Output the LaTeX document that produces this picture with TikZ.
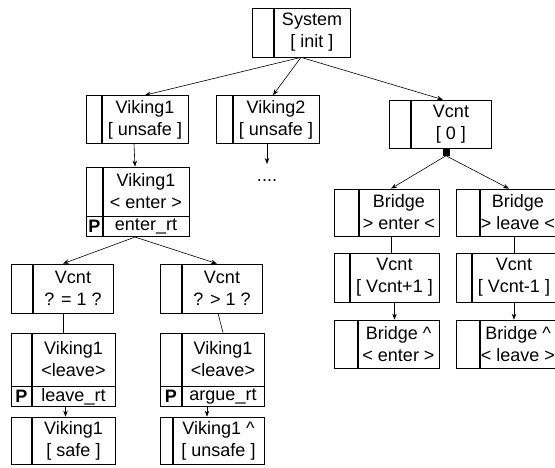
\documentclass[tikz,border=0pt]{standalone}
\usepackage{fontspec}
\setmainfont{Liberation Sans}
\usetikzlibrary{positioning,arrows.meta}

\tikzset{
  box/.style={draw, line width=0.7pt, inner sep=0pt, align=center, font=\fontsize{18}{22}\selectfont},
  col/.style={draw, line width=0.7pt, inner sep=0pt, font=\fontsize{18}{22}\selectfont\bfseries},
  arr/.style={line width=0.6pt, -{Stealth[length=6pt,width=4.5pt]}},
  link/.style={line width=0.6pt},
  sq/.style={fill, minimum size=7pt, inner sep=0pt}
}

\begin{document}
\begin{tikzpicture}[x=1pt,y=-1pt]
\useasboundingbox (0,0) rectangle (555,467);
\clip (0,0) rectangle (555,467);

\node[box, minimum width=76pt, minimum height=49pt] (sys) at (312,32.5) {System\\{[} init ]};
\node[col, minimum width=21pt, minimum height=49pt, left=0pt of sys] (sysl) {};

\node[box, minimum width=86pt, minimum height=48pt] (v1) at (145,119.5) {Viking1\\{[} unsafe ]};
\node[col, minimum width=15pt, minimum height=48pt, left=0pt of v1] (v1l) {};
\node[box, minimum width=86pt, minimum height=48pt] (v2) at (276,119.5) {Viking2\\{[} unsafe ]};
\node[col, minimum width=16pt, minimum height=48pt, left=0pt of v2] (v2l) {};
\node[box, minimum width=80pt, minimum height=48pt] (vc0) at (451,124) {Vcnt\\{[} 0 ]};
\node[col, minimum width=21pt, minimum height=48pt, left=0pt of vc0] (vc0l) {};
\node[sq, anchor=north] (vc0sq) at ([xshift=-5pt]vc0.south) {};

\node[box, minimum width=86pt, minimum height=49pt] (v1e) at (146,191.5) {Viking1\\< enter >};
\node[col, minimum width=16pt, minimum height=49pt, left=0pt of v1e] (v1el) {};
\node[box, minimum width=86pt, minimum height=20pt, below=0pt of v1e] (v1ep) {enter\_rt};
\node[col, minimum width=16pt, minimum height=20pt, left=0pt of v1ep] (v1epl) {P};
\node[font=\fontsize{18}{22}\selectfont, anchor=base, inner sep=0pt] (v2more) at (267,181) {....};

\node[box, minimum width=80pt, minimum height=49pt] (c1) at (73,288.5) {Vcnt\\? = 1 ?};
\node[col, minimum width=21pt, minimum height=49pt, left=0pt of c1] (c1l) {};
\node[box, minimum width=80pt, minimum height=49pt] (c2) at (222,288.5) {Vcnt\\? > 1 ?};
\node[col, minimum width=21pt, minimum height=49pt, left=0pt of c2] (c2l) {};

\node[box, minimum width=83pt, minimum height=53pt] (l1) at (73.5,359.5) {Viking1\\<leave>};
\node[col, minimum width=20pt, minimum height=53pt, left=0pt of l1] (l1l) {};
\node[box, minimum width=83pt, minimum height=20pt, below=0pt of l1] (l1p) {leave\_rt};
\node[col, minimum width=20pt, minimum height=20pt, left=0pt of l1p] (l1pl) {P};
\node[box, minimum width=82pt, minimum height=53pt] (l2) at (223,359.5) {Viking1\\<leave>};
\node[col, minimum width=21pt, minimum height=53pt, left=0pt of l2] (l2l) {};
\node[box, minimum width=82pt, minimum height=20pt, below=0pt of l2] (l2p) {argue\_rt};
\node[col, minimum width=21pt, minimum height=20pt, left=0pt of l2p] (l2pl) {P};

\node[box, minimum width=83pt, minimum height=47pt] (s1) at (73.5,440.5) {Viking1\\{[} safe ]};
\node[col, minimum width=20pt, minimum height=47pt, left=0pt of s1] (s1l) {};
\node[box, minimum width=91pt, minimum height=47pt] (s2) at (218.5,440.5) {Viking1 \textasciicircum\\{[} unsafe ]};
\node[col, minimum width=12pt, minimum height=47pt, left=0pt of s2] (s2l) {};

\node[box, minimum width=80pt, minimum height=47pt] (be) at (399,212.5) {Bridge\\> enter <};
\node[col, minimum width=24pt, minimum height=47pt, left=0pt of be] (bel) {};
\node[box, minimum width=76pt, minimum height=47pt] (bl) at (518,212.5) {Bridge\\> leave <};
\node[col, minimum width=23pt, minimum height=47pt, left=0pt of bl] (bll) {};
\node[box, minimum width=89pt, minimum height=49pt] (vp) at (394.5,277.5) {Vcnt\\{[} Vcnt+1 ]};
\node[col, minimum width=15pt, minimum height=49pt, left=0pt of vp] (vpl) {};
\node[box, minimum width=84pt, minimum height=49pt] (vm) at (514,277.5) {Vcnt\\{[} Vcnt-1 ]};
\node[col, minimum width=15pt, minimum height=49pt, left=0pt of vm] (vml) {};
\node[box, minimum width=81pt, minimum height=48pt] (bre) at (398.5,344) {Bridge \textasciicircum\\< enter >};
\node[col, minimum width=23pt, minimum height=48pt, left=0pt of bre] (brel) {};
\node[box, minimum width=76pt, minimum height=48pt] (brl) at (518,344) {Bridge \textasciicircum\\< leave >};
\node[col, minimum width=23pt, minimum height=48pt, left=0pt of brl] (brll) {};

\coordinate (sysout) at ([xshift=-11pt]sys.south);
\draw[arr] (sysout) -- (v1.north);
\draw[arr] (sysout) -- ([xshift=-3pt]v2.north);
\draw[arr] (sysout) -- ([xshift=-8pt]vc0.north);
\draw[arr] ([xshift=-11pt]v1.south) -- ([xshift=-11pt]v1e.north);
\draw[arr] ([xshift=-9pt]v2.south) -- ([yshift=17pt]v2more.base);
\draw[arr] ([xshift=-11pt]v1ep.south) -- ([xshift=-10pt]c1.north);
\draw[arr] ([xshift=-11pt]v1ep.south) -- ([xshift=-5pt]c2.north);
\coordinate (c1out) at ([xshift=-10pt]c1.south);
\draw[link] (c1out) -- (c1out |- l1.north);
\draw[link] ([xshift=-4pt]c2.south) -- (l2.north);
\draw[arr] ([xshift=-8pt]l1p.south) -- ([xshift=-8pt]s1.north);
\draw[arr] ([xshift=-16pt]l2p.south) -- ([xshift=-11.5pt]s2.north);
\draw[arr] (vc0sq.south) -- ([xshift=-8pt]be.north);
\draw[arr] (vc0sq.south) -- ([xshift=-9pt]bl.north);
\coordinate (beout) at ([xshift=-8pt]be.south);
\draw[link] (beout) -- (beout |- vp.north);
\draw[arr] (vp.south) -- (vp.south |- bre.north);
\draw[link] (vm.north |- bl.south) -- (vm.north);
\draw[arr] (vm.south) -- (vm.south |- brl.north);
\end{tikzpicture}
\end{document}
